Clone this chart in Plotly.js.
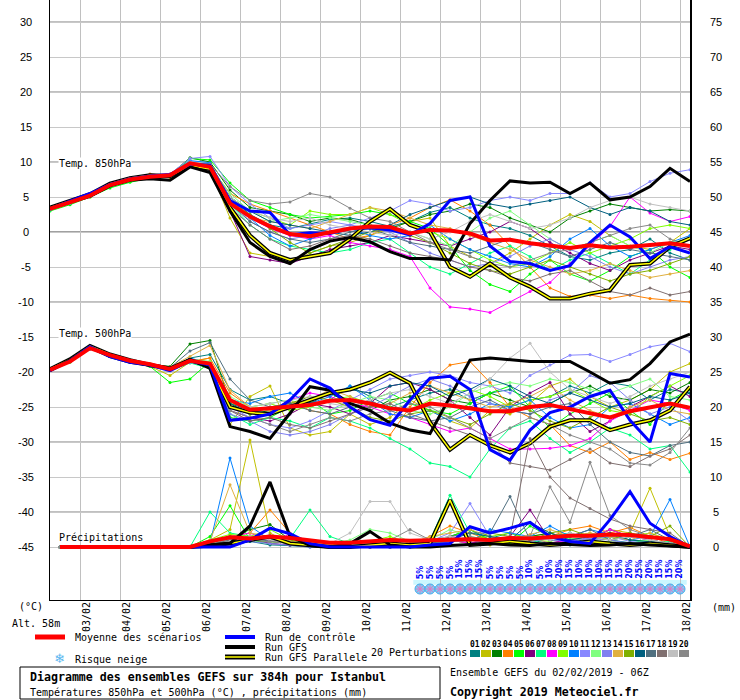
<!DOCTYPE html>
<html>
<head>
<meta charset="utf-8">
<script src="https://cdn.plot.ly/plotly-3.0.1.min.js"></script>
<style>
body { margin: 0; background: #fff; }
#chart { width: 740px; height: 700px; }
</style>
</head>
<body>
<div id="chart"></div>
<script>
// hours after 02/02/2019 06Z
var hours = [0,12,24,36,48,60,72,84,96,108,120,132,144,156,168,180,192,204,216,228,240,252,264,276,288,300,312,324,336,348,360,372,384];
var rainHours = [6,12,24,36,48,60,72,84,96,108,120,132,144,156,168,180,192,204,216,228,240,252,264,276,288,300,312,324,336,348,360,372,384];
var dayTicks = [18,42,66,90,114,138,162,186,210,234,258,282,306,330,354,378];
var dayLabels = ["03/02","04/02","05/02","06/02","07/02","08/02","09/02","10/02","11/02","12/02","13/02","14/02","15/02","16/02","17/02","18/02"];
var tempTicks = [-45,-40,-35,-30,-25,-20,-15,-10,-5,0,5,10,15,20,25,30];
var rainTicks = [0,5,10,15,20,25,30,35,40,45,50,55,60,65,70,75];

var snowHours = [222,228,234,240,246,252,258,264,270,276,282,288,294,300,306,312,318,324,330,336,342,348,354,360,366,372,378];
var snowRisk = [5,5,5,5,15,15,15,5,5,5,5,10,5,10,20,15,10,10,10,15,15,20,25,20,15,15,20];

// 850 hPa
var mean850 = [3.3,4.2,5.2,6.7,7.5,7.9,8.1,9.8,9.3,4.1,2.2,0.8,-0.3,-0.6,-0.1,0.5,0.8,0.7,-0.2,0.3,0.2,-0.2,-1.2,-1.1,-1.6,-2.0,-2.3,-1.9,-2.2,-2.1,-1.9,-1.6,-2.0];
var ctrl850 = [3.3,4.4,5.5,6.8,7.6,8.0,8.2,9.7,9.5,4.5,3.0,2.8,-0.4,-0.1,-0.2,0.5,0.6,0.3,-0.4,1.2,4.5,5.0,-2.0,-4.2,-4.5,-5.5,-4.8,-1.5,1.0,-0.7,-3.8,-2.1,-3.0];
var gfs850 = [3.4,4.3,5.1,6.6,7.4,7.6,7.4,9.3,8.5,3.0,-1.5,-3.5,-4.5,-2.5,-1.3,-0.8,-1.4,-2.8,-3.8,-3.8,-4.0,1.2,4.5,7.3,7.0,7.1,5.5,7.0,4.6,5.0,6.5,9.1,7.2];
var para850 = [3.5,4.5,5.4,6.9,7.7,8.1,8.0,9.5,9.0,3.5,-0.5,-3.0,-4.0,-3.5,-3.0,-1.0,1.5,3.3,1.0,0.0,-5.0,-6.4,-4.5,-6.5,-7.8,-9.5,-9.5,-8.8,-8.3,-4.7,-4.5,-2.1,-0.9];
var pert850 = [
  [3.2,4.0,5.3,6.5,7.4,7.8,8.0,9.6,9.8,5.0,2.5,1.0,0.5,1.2,1.8,2.0,1.5,0.8,1.5,2.8,3.5,2.0,1.0,0.5,-0.5,-2.0,-3.5,-4.0,-3.0,-2.5,-1.0,-3.0,-4.0],
  [3.5,4.4,5.0,6.9,7.7,8.0,7.8,9.9,9.0,2.0,-3.0,-3.5,-4.5,-3.0,-2.0,-1.5,-0.5,0.5,1.5,2.0,-2.0,-3.5,-4.5,-3.0,-1.0,1.0,2.5,1.5,-0.5,-2.0,-2.5,-1.5,0.5],
  [3.4,4.3,5.4,6.6,7.6,8.1,8.2,10.6,10.0,6.0,3.5,3.0,2.5,1.5,2.0,1.8,1.0,0.5,1.5,2.5,3.0,4.0,3.5,2.0,1.0,0.0,2.0,3.0,4.0,3.5,3.0,3.2,3.0],
  [3.2,4.1,5.2,6.5,7.4,8.3,8.0,9.5,9.4,5.5,4.0,3.0,2.0,1.0,0.0,-1.0,-0.5,1.0,2.0,3.5,4.6,3.0,1.0,-2.0,-5.0,-8.0,-9.2,-9.0,-9.5,-9.0,-9.5,-9.8,-10.0],
  [3.0,3.9,5.0,6.3,7.1,7.7,8.0,10.5,10.3,7.0,4.5,3.5,2.5,2.0,2.2,2.5,3.0,2.5,1.5,0.5,-2.0,-5.5,-7.5,-8.5,-6.0,-4.0,-6.0,-7.0,-5.5,-3.5,-2.5,-5.0,-6.5],
  [3.3,4.2,5.1,6.7,7.5,7.9,8.2,9.4,9.0,3.0,-3.5,-4.0,-4.5,-3.5,-2.5,-2.0,-1.5,-0.5,-1.0,-1.5,-2.0,-1.0,0.0,1.5,0.5,-1.5,-3.0,-4.5,-5.5,-4.0,-3.0,-2.0,-2.5],
  [3.1,4.1,5.3,6.8,7.6,7.9,8.0,9.9,9.6,4.0,1.0,-1.0,-2.0,-2.5,-3.0,-2.5,-1.5,-1.0,-3.0,-5.0,-6.0,-4.5,-3.0,-2.0,-3.5,-5.5,-4.0,-3.0,-4.5,-6.0,-4.0,-2.5,-1.0],
  [3.4,4.4,5.5,6.9,7.7,8.1,8.3,10.0,9.5,4.5,2.0,0.5,-0.5,-1.0,-0.5,-1.5,-2.0,-2.5,-3.5,-8.0,-10.7,-11.0,-11.5,-10.0,-8.5,-7.2,-4.5,-2.0,0.8,5.0,2.7,1.5,2.2],
  [3.3,4.2,5.2,6.6,7.5,7.8,8.1,9.8,9.1,5.0,3.0,2.0,1.0,3.0,2.5,2.5,3.5,2.5,1.0,0.0,-1.0,-2.5,-4.0,-5.0,-4.5,-3.0,-1.5,-3.0,-2.0,-1.0,0.5,1.0,0.5],
  [3.2,4.2,5.3,6.7,7.5,7.9,8.2,10.2,9.9,4.0,2.0,-0.5,-2.0,-1.0,0.0,0.5,-0.5,-1.0,-0.5,1.0,-1.0,-2.5,-3.5,-4.5,-5.0,-3.5,-1.0,0.5,-2.0,-3.5,-2.5,-1.5,-0.5],
  [3.4,4.3,5.2,6.8,7.6,8.0,8.3,10.5,10.8,6.5,4.0,2.0,0.5,1.0,1.5,1.0,2.0,3.0,4.5,4.0,3.0,3.5,4.5,5.0,4.5,5.5,5.5,7.0,5.0,5.5,7.2,8.4,8.9],
  [3.3,4.2,5.1,6.6,7.5,7.9,8.0,9.7,9.4,5.5,3.0,1.5,2.0,2.5,2.0,1.5,1.0,0.5,0.0,-1.0,-2.0,0.0,2.0,3.0,1.0,-1.0,-2.5,-1.5,-0.5,-2.0,-3.0,-1.5,-1.0],
  [3.2,4.1,5.2,6.7,7.4,7.8,8.0,9.6,9.2,4.5,1.5,0.0,-1.0,-0.5,0.5,1.0,0.5,0.0,-1.5,-3.0,-4.0,-5.0,-4.5,-3.5,-2.0,-1.0,-2.5,-3.5,-5.0,-6.0,-5.0,-4.0,-3.5],
  [3.3,4.3,5.3,6.8,7.6,8.0,8.2,9.9,9.5,4.0,2.0,1.5,1.0,0.5,1.5,2.5,3.5,3.0,2.0,1.0,0.5,-0.5,-1.5,-2.5,-4.0,-5.0,-6.0,-5.5,-4.5,-5.5,-6.5,-6.0,-5.5],
  [3.4,4.3,5.2,6.7,7.5,8.0,8.1,9.6,9.3,4.5,2.5,0.5,-1.5,-3.0,-2.0,-1.0,0.0,0.5,-0.5,-1.5,-3.0,-4.5,-5.5,-6.0,-5.0,-4.0,-5.0,-6.0,-7.0,-6.0,-5.5,-4.5,-3.5],
  [3.2,4.2,5.3,6.6,7.4,7.9,8.1,9.8,9.4,5.0,3.0,1.5,1.0,0.5,0.0,-0.5,0.0,1.0,2.5,3.5,4.5,5.0,4.0,3.5,4.0,4.5,5.0,3.5,2.5,3.5,3.0,1.5,1.0],
  [3.3,4.3,5.2,6.8,7.6,8.0,8.2,9.7,9.5,4.0,1.5,0.0,-1.0,-1.5,-1.0,0.0,0.5,-0.5,-1.5,-2.0,-2.5,-3.0,-2.0,-1.0,-1.5,-2.5,-3.5,-2.5,-1.5,-2.5,-3.0,-3.5,-4.0],
  [3.3,4.2,5.1,6.6,7.5,7.9,8.0,9.5,9.0,3.5,1.0,-1.0,-2.5,-2.0,-1.0,-0.5,-1.0,-2.0,-3.0,-3.5,-4.0,-5.0,-5.5,-6.5,-7.0,-6.0,-5.5,-7.0,-8.5,-9.0,-8.0,-9.0,-8.5],
  [3.4,4.3,5.3,6.7,7.6,8.1,8.2,10.0,9.6,5.0,3.0,2.0,1.5,2.0,1.0,0.5,0.0,-0.5,0.0,-1.0,0.0,1.5,2.5,1.5,0.5,1.0,2.0,3.5,4.5,5.0,4.0,3.5,3.0],
  [3.3,4.2,5.2,6.8,7.6,7.9,8.1,9.9,9.7,6.5,4.5,4.0,4.3,5.5,5.0,3.4,2.0,1.5,0.0,-1.5,-2.5,-3.5,-4.5,-5.0,-4.0,-3.0,-2.5,-1.5,-0.5,0.5,1.0,-1.0,-2.0]
];

// 500 hPa
var mean500 = [-19.7,-18.5,-16.6,-17.6,-18.4,-18.9,-19.6,-18.4,-18.8,-24.0,-25.4,-25.2,-25.0,-24.7,-24.1,-24.0,-24.5,-25.2,-25.5,-24.5,-24.8,-25.2,-25.6,-25.6,-25.0,-24.7,-25.3,-25.9,-26.5,-25.6,-25.0,-24.5,-25.1];
var ctrl500 = [-19.8,-18.4,-16.4,-17.8,-18.6,-19.0,-19.8,-18.4,-19.0,-26.9,-26.6,-26.0,-24.0,-21.0,-22.3,-25.0,-26.8,-27.6,-24.0,-20.9,-20.6,-22.5,-31.1,-32.6,-28.3,-25.8,-25.0,-23.5,-22.6,-26.9,-30.0,-20.2,-20.7];
var gfs500 = [-19.8,-18.3,-16.5,-17.8,-18.6,-19.0,-19.5,-18.2,-19.5,-27.8,-28.5,-29.5,-25.9,-22.1,-22.6,-24.5,-25.5,-27.3,-28.3,-28.8,-23.5,-18.3,-18.0,-18.3,-18.5,-18.5,-18.5,-20.0,-21.6,-21.1,-18.8,-15.7,-14.6];
var para500 = [-19.6,-18.2,-16.3,-17.5,-18.3,-19.0,-19.5,-18.3,-19.2,-25.0,-25.8,-26.0,-25.0,-24.0,-23.0,-22.5,-21.5,-20.1,-21.6,-27.2,-31.1,-29.0,-30.5,-31.5,-30.2,-27.8,-26.9,-26.9,-28.3,-27.5,-26.9,-25.5,-22.1];
var pert500 = [
  [-19.8,-18.3,-16.6,-17.7,-18.5,-19.0,-19.5,-18.0,-17.5,-22.5,-24.0,-23.5,-24.5,-25.0,-24.0,-22.0,-23.5,-25.0,-24.0,-23.0,-22.5,-24.0,-23.0,-22.5,-24.0,-23.5,-22.0,-23.0,-21.5,-22.0,-24.0,-22.5,-23.0],
  [-19.7,-18.5,-16.4,-17.5,-18.4,-19.2,-20.5,-18.6,-18.0,-27.5,-23.5,-22.0,-28.0,-29.0,-28.5,-26.0,-27.5,-26.5,-24.0,-25.5,-27.0,-28.0,-25.5,-26.0,-24.5,-22.0,-21.0,-23.5,-25.0,-24.0,-22.5,-20.0,-18.8],
  [-19.7,-18.4,-16.5,-17.6,-18.3,-18.9,-19.2,-16.0,-15.5,-24.5,-26.0,-25.5,-25.0,-24.0,-23.0,-24.5,-25.5,-24.0,-23.5,-22.5,-24.0,-24.5,-23.0,-24.0,-25.0,-24.5,-23.0,-22.0,-23.5,-24.0,-22.5,-23.0,-21.5],
  [-19.6,-18.4,-16.7,-17.6,-18.5,-18.8,-19.3,-18.5,-18.0,-23.0,-25.0,-25.5,-24.0,-25.5,-26.0,-27.5,-28.5,-29.0,-25.0,-21.5,-19.0,-18.5,-21.5,-25.0,-26.5,-27.5,-30.5,-31.5,-30.0,-32.5,-31.5,-32.5,-31.6],
  [-19.8,-18.6,-16.5,-17.8,-18.6,-19.2,-21.5,-21.0,-18.5,-26.5,-27.0,-26.5,-25.0,-24.0,-26.0,-25.5,-24.0,-23.0,-24.5,-25.5,-26.0,-24.5,-23.0,-22.0,-25.0,-28.0,-26.0,-24.5,-23.0,-25.5,-27.5,-24.0,-22.5],
  [-19.7,-18.5,-16.6,-17.7,-18.4,-19.0,-19.6,-18.5,-19.0,-25.5,-26.5,-27.0,-26.0,-24.5,-25.0,-26.0,-24.5,-22.0,-21.5,-22.5,-24.0,-26.5,-29.0,-25.0,-23.0,-21.5,-26.0,-28.5,-27.0,-25.0,-23.5,-22.0,-23.5],
  [-19.8,-18.4,-16.5,-17.7,-18.5,-19.1,-19.8,-18.7,-19.5,-26.0,-27.5,-26.5,-27.0,-28.0,-26.5,-27.0,-28.0,-29.5,-31.0,-33.0,-33.5,-35.0,-31.0,-28.0,-27.0,-29.5,-31.5,-30.0,-28.0,-29.0,-31.0,-30.5,-34.3],
  [-19.7,-18.3,-16.4,-17.5,-18.4,-18.9,-19.4,-18.2,-18.7,-24.0,-25.5,-26.0,-24.0,-23.0,-23.5,-24.5,-25.0,-26.0,-26.5,-27.5,-28.5,-28.0,-29.5,-31.0,-31.0,-30.9,-30.5,-29.5,-27.0,-25.5,-24.0,-24.5,-25.5],
  [-19.6,-18.5,-16.6,-17.6,-18.5,-19.0,-19.5,-18.3,-18.5,-24.5,-25.0,-24.5,-25.5,-25.0,-24.0,-23.5,-24.5,-25.0,-25.5,-24.0,-23.0,-22.5,-23.5,-25.0,-24.0,-23.5,-22.5,-24.0,-25.5,-26.0,-23.5,-22.0,-20.5],
  [-19.7,-18.4,-16.5,-17.8,-18.6,-19.1,-19.6,-18.0,-18.8,-24.0,-24.5,-23.5,-23.0,-24.5,-23.5,-22.0,-24.0,-26.0,-26.5,-25.5,-27.0,-26.0,-24.5,-25.0,-24.0,-26.5,-28.0,-27.5,-25.0,-24.5,-26.0,-27.5,-26.5],
  [-19.8,-18.5,-16.7,-17.6,-18.4,-19.0,-19.5,-18.6,-19.2,-25.0,-26.5,-27.5,-28.0,-27.0,-25.5,-24.0,-22.5,-21.0,-20.5,-20.0,-20.5,-21.5,-22.0,-23.0,-20.5,-19.0,-17.6,-17.5,-18.5,-17.5,-16.4,-15.9,-17.1],
  [-19.7,-18.3,-16.5,-17.6,-18.3,-18.8,-19.4,-18.2,-18.5,-23.5,-25.0,-24.5,-24.0,-25.0,-25.5,-24.5,-23.5,-24.0,-25.5,-26.0,-25.0,-23.0,-22.0,-21.5,-22.0,-21.0,-21.5,-22.5,-23.0,-22.0,-21.0,-23.5,-24.0],
  [-19.6,-18.4,-16.6,-17.7,-18.5,-19.0,-19.7,-18.6,-19.3,-26.0,-27.0,-28.5,-29.0,-28.5,-27.5,-26.0,-25.0,-23.5,-22.0,-21.0,-22.0,-23.5,-24.5,-25.5,-26.0,-24.0,-23.0,-20.5,-21.5,-24.0,-26.0,-25.0,-27.0],
  [-19.7,-18.4,-16.4,-17.5,-18.3,-18.9,-19.3,-17.8,-16.2,-22.6,-25.0,-25.5,-24.5,-24.0,-22.5,-23.5,-25.0,-24.5,-23.0,-22.0,-23.0,-24.0,-25.0,-24.5,-23.5,-22.0,-24.0,-25.5,-26.5,-25.0,-24.0,-25.5,-26.0],
  [-19.8,-18.5,-16.6,-17.8,-18.5,-19.0,-19.6,-18.5,-19.0,-25.0,-26.0,-25.0,-24.5,-23.5,-24.0,-25.0,-26.5,-27.0,-26.0,-25.5,-26.5,-27.5,-26.0,-24.5,-25.5,-27.0,-28.0,-26.5,-25.0,-26.0,-27.0,-26.5,-27.5],
  [-19.7,-18.4,-16.5,-17.7,-18.4,-19.0,-19.5,-18.4,-18.9,-24.5,-25.5,-26.0,-25.0,-24.5,-23.0,-22.5,-23.0,-22.0,-21.5,-22.0,-23.5,-22.5,-21.0,-22.0,-23.5,-24.5,-23.0,-24.0,-25.0,-24.5,-23.5,-24.0,-23.0],
  [-19.6,-18.5,-16.7,-17.6,-18.5,-19.1,-19.4,-17.0,-15.8,-21.0,-24.0,-25.0,-24.5,-25.5,-26.0,-25.0,-24.0,-25.5,-26.5,-27.0,-26.5,-25.0,-24.0,-25.5,-26.0,-25.0,-24.5,-27.5,-30.0,-31.5,-32.0,-30.5,-30.0],
  [-19.7,-18.5,-16.5,-17.7,-18.5,-19.0,-19.6,-18.5,-19.1,-25.5,-27.0,-26.5,-27.5,-28.0,-27.0,-26.0,-25.0,-24.5,-26.0,-27.0,-28.0,-29.0,-30.0,-33.0,-33.5,-34.0,-32.5,-31.0,-33.0,-33.5,-32.0,-31.0,-29.0],
  [-19.7,-18.4,-16.6,-17.6,-18.4,-18.9,-19.5,-18.3,-18.7,-24.0,-25.0,-24.5,-24.0,-23.5,-24.5,-25.0,-24.0,-23.0,-22.5,-23.5,-24.5,-23.0,-21.0,-18.0,-15.9,-20.0,-22.5,-23.5,-24.5,-23.5,-22.0,-21.0,-20.0],
  [-19.8,-18.5,-16.5,-17.6,-18.5,-19.1,-19.7,-18.4,-19.0,-25.5,-26.5,-27.5,-28.5,-27.5,-26.5,-27.0,-26.0,-25.5,-24.5,-25.0,-26.5,-28.0,-29.5,-28.0,-26.5,-27.5,-29.0,-30.0,-31.0,-33.0,-33.3,-31.5,-28.0]
];

// precipitation (mm), on rainHours
var meanRain = [0,0,0,0,0,0,0,0,0.8,1.4,1.2,1.5,1.3,1.0,0.6,0.6,0.8,1.0,0.9,1.0,1.0,1.1,1.0,1.3,1.2,1.4,1.6,1.6,1.8,1.7,1.4,1.1,0.1];
var ctrlRain = [0,0,0,0,0,0,0,0,0,0,1.0,2.7,1.9,0.5,0,0,0,0,0,0.3,0.5,2.9,2.0,2.7,3.5,1.5,0.8,0.5,3.9,7.9,3.4,1.5,0];
var gfsRain = [0,0,0,0,0,0,0,0,0.3,0.5,3.0,9.3,1.5,0.2,0,0.5,2.2,0.3,0,0,0.2,0.3,0.5,0.3,0.2,0.5,0.3,0.2,0.3,0.5,0.3,0.2,0];
var paraRain = [0,0,0,0,0,0,0,0,0.2,0.5,1.0,1.5,0.5,0.2,0,0,0.3,0.5,0.3,0.5,6.7,0.3,0.5,0.8,0.5,0.3,0.5,0.8,0.5,0.3,0.5,0.3,0];
var pertRain = [
  [0,0,0,0,0,0,0,0,0.5,1.5,0.8,0.3,0.2,0,0,0.3,0.5,0.2,0,0.3,1.0,0.5,1.2,2.0,1.0,0.5,0.3,1.5,1.0,0.6,0.4,0.3,0],
  [0,0,0,0,0,0,0,0,1.0,2.5,15.3,2.0,0.5,0.3,0,0,0.2,0.5,0.3,0.8,1.0,0.5,0.3,1.2,1.5,2.0,1.0,1.5,2.5,2.0,8.4,1.5,0],
  [0,0,0,0,0,0,0,0,0.8,1.2,2.5,3.2,1.0,0.3,0.2,0,0,0,0.3,0.5,1.5,2.5,1.0,0.8,1.5,2.0,1.2,1.0,2.5,1.5,1.0,0.5,0],
  [0,0,0,0,0,0,0,0,0.3,1.5,2.0,5.3,2.0,0.5,0,0,0,0.2,0.5,1.5,3.0,2.0,1.0,0.5,0.8,1.5,2.5,3.0,2.0,2.8,1.5,0.5,0],
  [0,0,0,0,0,0,0,0,1.5,5.9,1.0,0.5,0.8,0.3,0,0.5,0.8,0.3,0.2,0.5,1.5,2.5,1.0,0.5,3.0,1.5,2.0,1.0,1.5,1.0,0.8,0.5,0],
  [0,0,0,0,0,0,0,0,0.2,0.8,1.2,0.5,0.3,0.3,0.2,0,0,0,0,0.5,1.5,1.0,0.8,1.5,5.3,1.0,0.5,1.0,1.5,2.0,1.0,0.5,0],
  [0,0,0,0,0,0,0,0,5.0,2.0,1.5,1.0,1.2,5.3,1.5,0.5,0.2,0,0,1.0,7.4,2.0,1.5,1.0,0.5,1.5,2.0,1.0,1.5,1.0,0.5,0.8,0],
  [0,0,0,0,0,0,0,0,0.3,1.5,2.0,0.8,1.8,0.5,0.2,0,0,0,0.3,0.8,1.0,0.5,1.2,0.8,1.5,0.5,1.0,1.2,2.5,1.5,1.0,0.5,0],
  [0,0,0,0,0,0,0,0,1.0,1.8,1.5,2.5,1.0,0.8,0.3,0.5,0.8,1.5,0.5,1.0,1.0,1.2,1.5,2.0,1.0,0.8,1.5,2.0,1.0,1.5,2.0,1.0,0],
  [0,0,0,0,0,0,0,0,0.5,12.7,3.0,1.0,0.8,0.3,0,0,0,0,0.2,0.5,1.0,0.8,2.5,2.0,1.5,3.0,1.5,2.5,1.8,1.0,1.5,6.8,0],
  [0,0,0,0,0,0,0,0,0.3,0.8,1.5,1.0,0.5,0.2,0,0,0,0,0.5,0.8,2.0,6.2,1.5,1.0,0.8,1.2,2.0,1.0,1.5,0.8,0.5,0.3,0],
  [0,0,0,0,0,0,0,0,0.5,1.2,1.0,0.8,0.5,0.3,0.5,1.0,2.5,2.0,0.8,1.0,2.5,1.5,1.0,0.8,1.0,1.5,1.2,1.0,0.8,0.5,1.0,0.5,0],
  [0,0,0,0,0,0,0,0,0.2,0.5,0.8,0.5,0.3,0,0,0,0,0,0.2,0.5,0.8,1.0,0.5,0.8,1.5,1.0,0.8,1.2,1.0,0.5,0.8,0.3,0],
  [0,0,0,0,0,0,0,0,0.8,8.9,2.0,1.5,0.8,0.5,0.2,0,0,0,0.3,1.5,2.0,2.5,1.5,1.0,1.8,2.5,1.5,2.0,1.5,1.0,2.0,1.0,0],
  [0,0,0,0,0,0,0,0,0.5,1.5,1.0,0.8,0.5,0.3,0,0,0.2,0.5,0.3,0.8,1.2,1.0,2.0,1.5,1.0,2.0,2.5,1.5,1.0,2.0,1.5,3.0,0],
  [0,0,0,0,0,0,0,0,0.3,1.0,0.8,1.5,0.5,0.3,0,0,0,0,0.3,0.5,1.0,2.0,1.5,1.0,3.5,2.0,1.0,1.5,2.0,1.0,0.8,0.5,0],
  [0,0,0,0,0,0,0,0,0.5,1.5,1.2,0.8,0.5,0.2,0,0,0,0.2,0.5,1.0,1.5,2.0,2.0,7.2,1.0,1.5,1.5,2.5,1.0,1.5,2.5,1.0,0],
  [0,0,0,0,0,0,0,0,0.3,1.0,1.5,1.0,0.5,0.2,0,0,0,0,0.3,0.5,0.8,1.0,0.8,1.5,15.5,10.0,7.0,5.5,4.0,3.0,2.5,2.0,0],
  [0,0,0,0,0,0,0,0,0.2,0.8,1.5,1.0,0.5,0.3,0.5,2.0,6.5,6.5,2.0,1.0,1.5,1.0,0.8,1.0,1.5,1.0,2.0,1.5,1.0,1.5,1.0,0.5,0],
  [0,0,0,0,0,0,0,0,0.3,1.2,1.0,0.8,0.5,0.3,0,0,0.5,1.0,2.5,1.0,0.8,1.5,1.0,1.2,1.5,8.6,3.5,12.1,4.5,2.5,1.5,1.0,0]
];

var pertColors = ["#008080","#c0c000","#008000","#ff8000","#00ff00","#800080","#00ff80","#ff00ff","#80ff00","#0080ff",
                  "#8888ff","#80ff80","#8080f0","#e0b040","#80b000","#006080","#507080","#807070","#c0c0c0","#888888"];

var MONO = '"DejaVu Sans Mono", monospace';
var yLow = -52.571, yHigh = 33.143;   // plot spans y pixels 600..0
var rainShift = 45;                    // 0 mm sits on -45 degC

function px(x) { return (x - 50) / 640; }
function py(y) { return (600 - y) / 600; }

function thin(x, y, color, axis) {
    return {x: x, y: y, type: "scatter", mode: "lines+markers", yaxis: axis,
            line: {color: color, width: 1}, marker: {color: color, size: 3},
            hoverinfo: "skip"};
}
function thick(x, y, color, w, axis) {
    return {x: x, y: y, type: "scatter", mode: "lines", yaxis: axis,
            line: {color: color, width: w}, hoverinfo: "skip"};
}

var traces = [];
for (var i = 0; i < 20; i++) {
    traces.push(thin(rainHours, pertRain[i], pertColors[i], "y2"));
    traces.push(thin(hours, pert850[i], pertColors[i], "y"));
    traces.push(thin(hours, pert500[i], pertColors[i], "y"));
}
var groups = [[hours, para850, ctrl850, gfs850, mean850, "y"],
              [hours, para500, ctrl500, gfs500, mean500, "y"],
              [rainHours, paraRain, ctrlRain, gfsRain, meanRain, "y2"]];
groups.forEach(function(g) {
    traces.push(thick(g[0], g[1], "#000000", 4, g[5]));
    traces.push(thick(g[0], g[1], "#ffff00", 1.5, g[5]));
    traces.push(thick(g[0], g[3], "#000000", 3, g[5]));
    traces.push(thick(g[0], g[2], "#0000ff", 3, g[5]));
    traces.push(thick(g[0], g[4], "#ff0000", 4, g[5]));
});

// snow risk row
var snowY = snowHours.map(function() { return -51.0; });
traces.push({x: snowHours, y: snowY, type: "scatter", mode: "markers", yaxis: "y",
             marker: {symbol: "circle", size: 10, color: "#7fcff5", line: {color: "#48a8e8", width: 1}},
             hoverinfo: "skip"});
traces.push({x: snowHours, y: snowY, type: "scatter", mode: "markers", yaxis: "y",
             marker: {symbol: "asterisk-open", size: 7, line: {color: "#ffffff", width: 1}},
             hoverinfo: "skip"});

var shapes = [];
[-40, -30, -20, -10, 10, 20, 30].forEach(function(v) {
    shapes.push({type: "line", xref: "x", yref: "y", x0: 0, x1: 384, y0: v, y1: v,
                 layer: "below", line: {color: "#c0c0c0", width: 2}});
});
shapes.push({type: "line", xref: "x", yref: "y", x0: 0, x1: 384, y0: 0, y1: 0,
             layer: "below", line: {color: "#a0a0a0", width: 2}});
shapes.push({type: "rect", xref: "x", yref: "y", x0: 218, x1: 382, y0: -50.4, y1: -49.7,
             layer: "below", fillcolor: "#ccf7ff", line: {width: 0}});

// legend drawn by hand below the plot
function legLine(x0, x1, y, color, w) {
    shapes.push({type: "line", xref: "paper", yref: "paper", x0: px(x0), x1: px(x1), y0: py(y), y1: py(y),
                 line: {color: color, width: w}});
}
legLine(35, 65, 637, "#ff0000", 5);
legLine(225, 255, 637, "#0000ff", 4);
legLine(225, 255, 647, "#000000", 4);
legLine(225, 255, 657, "#000000", 5);
legLine(225, 255, 657, "#ffff00", 1.5);
for (var i = 0; i < 20; i++) {
    shapes.push({type: "rect", xref: "paper", yref: "paper", x0: px(470 + 11 * i), x1: px(480 + 11 * i),
                 y0: py(657), y1: py(650), fillcolor: pertColors[i], line: {width: 0}});
}
shapes.push({type: "rect", xref: "paper", yref: "paper", x0: px(20), x1: px(440), y0: py(699), y1: py(667),
             line: {color: "#000000", width: 1}});

var ann = [];
function txt(x, y, s, opts) {
    var a = {xref: "paper", yref: "paper", x: px(x), y: py(y), text: s, showarrow: false,
             xanchor: "left", yanchor: "middle", font: {family: MONO, size: 10, color: "#000"}};
    for (var k in opts) a[k] = opts[k];
    ann.push(a);
}
tempTicks.forEach(function(v) {
    ann.push({xref: "paper", yref: "y", x: px(26), y: v, text: String(v), showarrow: false,
              xanchor: "center", yanchor: "middle", font: {family: "Liberation Sans", size: 11, color: "#000"}});
});
rainTicks.forEach(function(v) {
    ann.push({xref: "paper", yref: "y2", x: px(716), y: v, text: String(v), showarrow: false,
              xanchor: "center", yanchor: "middle", font: {family: "Liberation Sans", size: 11, color: "#000"}});
});
// date labels, read upward, just right of each day line
dayTicks.forEach(function(h, i) {
    ann.push({xref: "x", yref: "paper", x: h, y: py(601), text: dayLabels[i], showarrow: false, textangle: -90,
              xanchor: "center", yanchor: "top", xshift: 6, borderpad: 0,
              font: {family: MONO, size: 10, color: "#000"}});
});
snowHours.forEach(function(h, i) {
    ann.push({xref: "x", yref: "y", x: h, y: -49.75, text: snowRisk[i] + "%", showarrow: false, textangle: -90,
              xanchor: "center", yanchor: "bottom", borderpad: 0,
              font: {family: "DejaVu Sans", size: 8, color: "#0000ff", weight: "bold"}});
});
ann.push({xref: "x", yref: "y", x: 5, y: 9.85, text: "Temp. 850hPa", showarrow: false, xanchor: "left",
          bgcolor: "#ffffff", borderpad: 0, font: {family: MONO, size: 10, color: "#000"}});
ann.push({xref: "x", yref: "y", x: 5, y: -14.55, text: "Temp. 500hPa", showarrow: false, xanchor: "left",
          bgcolor: "#ffffff", borderpad: 0, font: {family: MONO, size: 10, color: "#000"}});
ann.push({xref: "x", yref: "y", x: 5, y: -43.6, text: "Précipitations", showarrow: false, xanchor: "left",
          borderpad: 0, font: {family: MONO, size: 10, color: "#000"}});

txt(31, 606, "(°C)", {xanchor: "center"});
txt(10, 623, "Alt. 58m");
txt(710, 607, "(mm)");
txt(73, 637, "Moyenne des scénarios");
txt(73, 659, "Risque neige");
txt(59, 658, "❄", {xanchor: "center", font: {family: "DejaVu Sans", size: 13, color: "#5cb8f0"}});
txt(263, 637, "Run de contrôle");
txt(263, 647, "Run GFS");
txt(263, 657, "Run GFS Parallele");
txt(369, 652, "20 Perturbations");
for (var i = 0; i < 20; i++) {
    txt(475 + 11 * i, 644, (i < 9 ? "0" : "") + (i + 1), {xanchor: "center",
        font: {family: MONO, size: 8, color: "#000", weight: "bold"}});
}
txt(28, 677, "Diagramme des ensembles GEFS sur 384h pour Istanbul", {font: {family: MONO, size: 11.6, color: "#000", weight: "bold"}});
txt(28, 692, "Températures 850hPa et 500hPa (°C) , précipitations (mm)");
txt(448, 672, "Ensemble GEFS du 02/02/2019 - 06Z");
txt(448, 692, "Copyright 2019 Meteociel.fr", {font: {family: MONO, size: 11.6, color: "#000", weight: "bold"}});

var layout = {
    width: 740, height: 700,
    margin: {l: 50, r: 50, t: 0, b: 100},
    paper_bgcolor: "#ffffff", plot_bgcolor: "#ffffff",
    showlegend: false,
    xaxis: {range: [0, 384], tickvals: dayTicks, showticklabels: false, ticks: "",
            showgrid: true, gridcolor: "#c0c0c0", gridwidth: 1, zeroline: false,
            showline: true, linecolor: "#000", linewidth: 1, fixedrange: true},
    yaxis: {range: [yLow, yHigh], tickvals: tempTicks, showticklabels: false, ticks: "",
            showgrid: true, gridcolor: "#c8c8c8", gridwidth: 1, zeroline: false,
            showline: true, linecolor: "#000", linewidth: 1, fixedrange: true},
    yaxis2: {range: [yLow + rainShift, yHigh + rainShift], overlaying: "y", side: "right",
             showticklabels: false, ticks: "", showgrid: false, zeroline: false,
             showline: true, linecolor: "#000", linewidth: 2, fixedrange: true},
    shapes: shapes,
    annotations: ann
};

Plotly.newPlot("chart", traces, layout, {staticPlot: true});
</script>
</body>
</html>
